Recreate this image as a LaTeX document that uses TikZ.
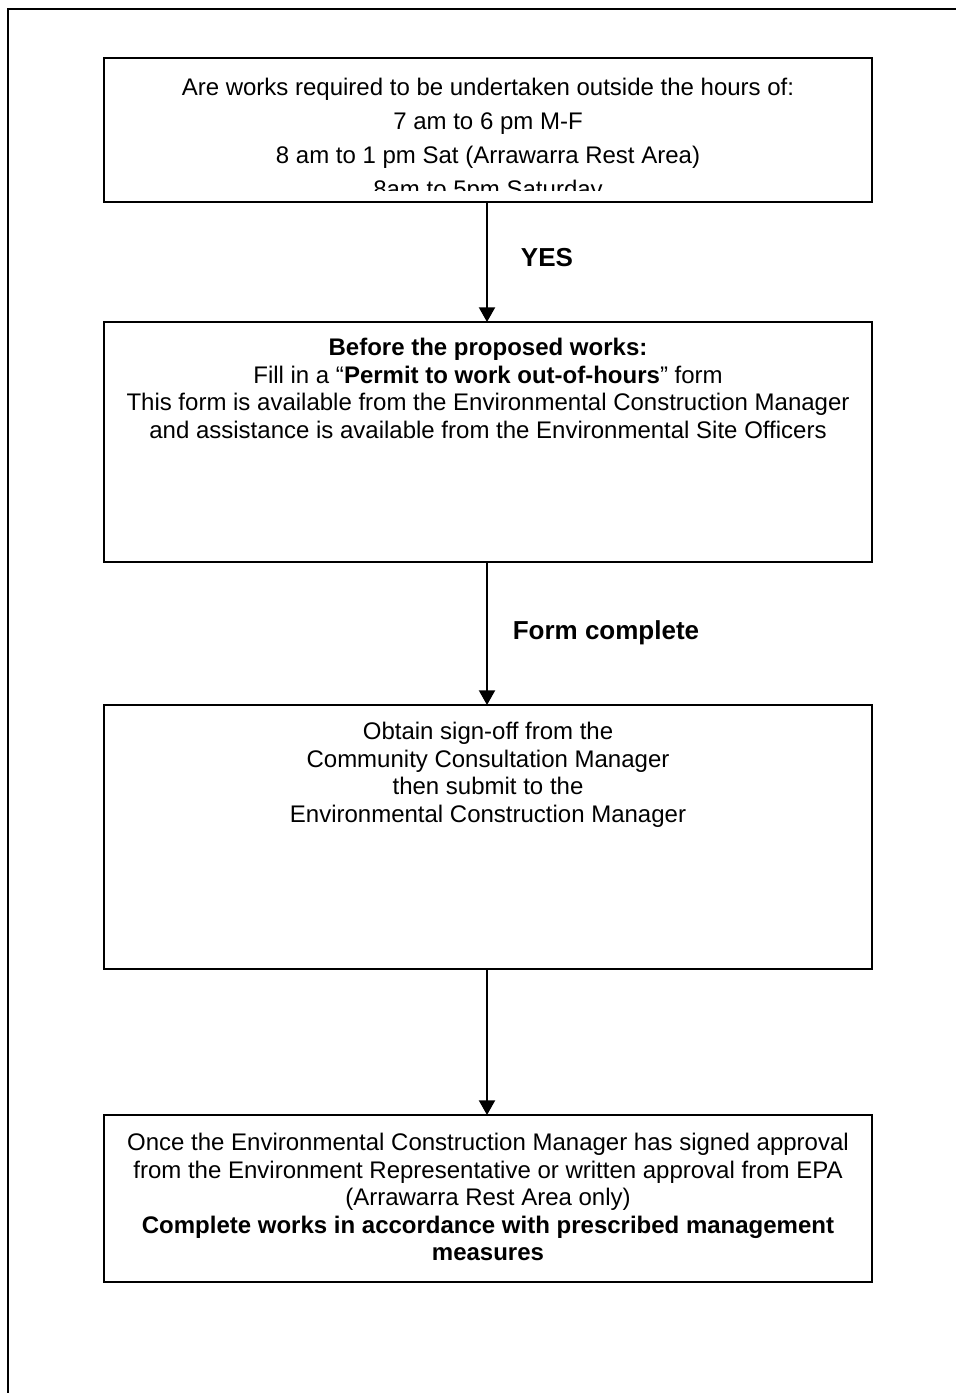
\documentclass[tikz,border=0pt]{standalone}
\usepackage{fontspec}
\setmainfont{Liberation Sans}
\usetikzlibrary{arrows.meta}
\begin{document}
\begin{tikzpicture}[x=0.75pt,y=-0.75pt,
  box/.style={draw,line width=2.2pt,inner sep=0pt,outer sep=0pt,minimum width=576pt},
  txt/.style={anchor=north,align=center,inner sep=0pt,font=\fontsize{18}{20.6}\selectfont},
  lab/.style={font=\fontsize{19.5}{22}\selectfont\bfseries,inner sep=0pt},
  arr/.style={line width=1.5pt,-{Triangle[width=12pt,length=11pt]}}]
\useasboundingbox (0,0) rectangle (956,1393);
% page frame
\draw[line width=1.5pt] (8,1393) -- (8,9) -- (956,9);
% boxes
\node[box,minimum height=108pt] (b1) at (488,130) {};
\node[box,minimum height=180pt] (b2) at (488,442) {};
\node[box,minimum height=198pt] (b3) at (488,837) {};
\node[box,minimum height=125.25pt] (b4) at (488,1198.5) {};
% texts
\begin{scope}
\clip (104,58) rectangle (872,190);
\node[txt,font=\fontsize{18}{25.5}\selectfont] (t1) at (488,78)
 {Are works required to be undertaken outside the hours of:\\
  7 am to 6 pm M-F\\
  8 am to 1 pm Sat (Arrawarra Rest Area)\\
  8am to 5pm Saturday};
\end{scope}
\node[txt] (t2) at (488,338)
 {\textbf{Before the proposed works:}\\
  Fill in a “\textbf{Permit to work out-of-hours}” form\\
  This form is available from the Environmental Construction Manager\\
  and assistance is available from the Environmental Site Officers};
\node[txt] (t3) at (488,722)
 {Obtain sign-off from the\\
  Community Consultation Manager\\
  then submit to the\\
  Environmental Construction Manager};
\node[txt] (t4) at (488,1133)
 {Once the Environmental Construction Manager has signed approval\\
  from the Environment Representative or written approval from EPA\\
  (Arrawarra Rest Area only)\\
  \textbf{Complete works in accordance with prescribed management}\\
  \textbf{measures}};
% connectors
\draw[arr] (b1.south -| 487,0) -- (b2.north -| 487,0);
\draw[arr] (b2.south -| 487,0) -- (b3.north -| 487,0);
\draw[arr] (b3.south -| 487,0) -- (b4.north -| 487,0);
% labels
\node[lab] (yes) at (547,258) {YES};
\node[lab] (fc) at (606,633) {Form complete};
\end{tikzpicture}
\end{document}
